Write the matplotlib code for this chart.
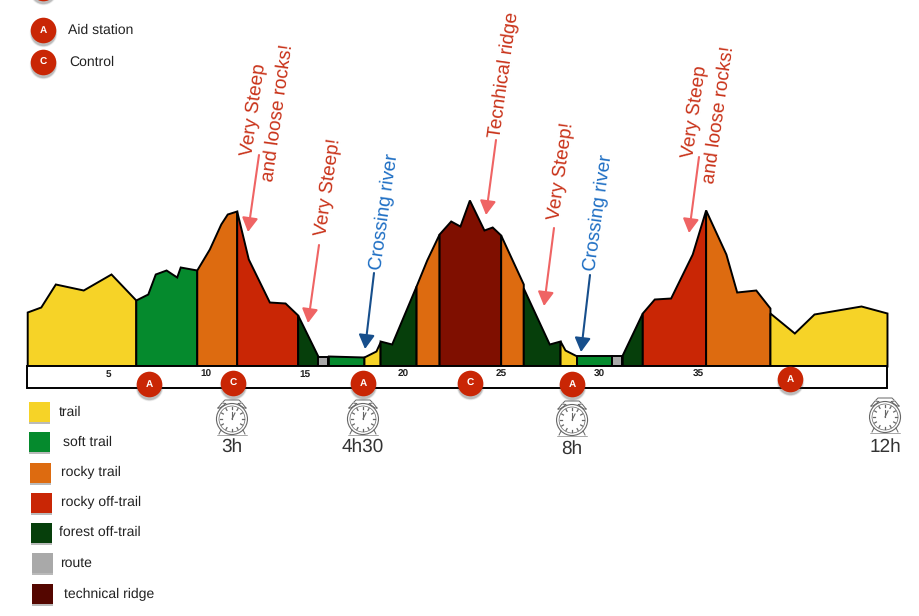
import matplotlib
matplotlib.use('Agg')
import numpy as np
import matplotlib.pyplot as plt
from matplotlib.patches import Ellipse, Rectangle

plt.rcParams['font.family'] = ['Liberation Sans', 'DejaVu Sans']
plt.rcParams['text.hinting'] = 'none'
plt.rcParams['text.hinting_factor'] = 1

# surface colours
YELLOW = '#F6D327'
GREEN = '#058A2D'
ORANGE = '#DD6B10'
RED = '#C92605'
FOREST = '#063F0B'
GREY = '#A9A9A9'
RIDGE = '#7F0F00'

# ------------------------------------------
# course profile, one block per surface
# ------------------------------------------
seg_colors = [YELLOW, GREEN, ORANGE, RED, FOREST, GREY, GREEN, YELLOW, FOREST, ORANGE,
              RIDGE, ORANGE, FOREST, YELLOW, GREEN, GREY, FOREST, RED, ORANGE, YELLOW]
seg_km = [
    [0.89, 1.58, 2.32, 3.74, 5.15, 6.41],
    [6.41, 7.02, 7.40, 7.95, 8.49, 8.67, 9.51],
    [9.51, 10.15, 10.73, 11.06, 11.54],
    [11.54, 12.13, 13.20, 14.00, 14.64],
    [14.64, 15.69],
    [15.69, 16.20],
    [16.20, 18.01],
    [18.01, 18.62, 18.83],
    [18.83, 19.42, 20.66],
    [20.66, 21.20, 21.83],
    [21.83, 22.42, 22.89, 23.37, 24.11, 24.53, 24.96],
    [24.96, 26.11],
    [26.11, 27.43, 27.98],
    [27.98, 28.23, 28.83],
    [28.83, 30.60],
    [30.60, 31.14],
    [31.14, 32.16],
    [32.16, 32.77, 33.60, 34.70, 35.38],
    [35.38, 36.41, 36.96, 37.93, 38.65],
    [38.65, 39.89, 40.89, 43.28, 44.60],
]
seg_elev = [
    [54, 59, 82, 76, 92, 66],
    [66, 72, 92, 96, 89, 99, 96],
    [96, 117, 142, 152, 155],
    [155, 107, 64, 63, 51],
    [51, 9],
    [9, 9],
    [10, 9],
    [9, 15, 24],
    [25, 22, 80],
    [80, 106, 132],
    [132, 145, 140, 166, 136, 139, 131],
    [131, 82],
    [78, 22, 25],
    [25, 16, 10],
    [10, 10],
    [10, 10],
    [11, 53],
    [53, 67, 68, 112, 156],
    [156, 112, 74, 76, 58],
    [53, 33, 52, 60, 53],
]

tick_km = [5, 10, 15, 20, 25, 30, 35]

station_km = [7.08, 11.35, 17.96, 23.40, 28.59, 39.67]
station_letter = ['A', 'C', 'A', 'C', 'A', 'A']
station_py = [384, 383, 383, 383, 384, 379]

clock_km = [11.30, 17.96, 28.59, 44.50]
clock_labels = ['3h', '4h30', '8h', '12h']
clock_py = [419, 419, 420, 417]
clock_label_py = [447, 447, 449, 447]

# callouts: text, text centre (px), arrow start (px), arrow tip (px), colours
note_text = ['Very Steep\nand loose rocks!', 'Very Steep!', 'Crossing river', 'Tecnhical ridge',
             'Very Steep!', 'Crossing river', 'Very Steep\nand loose rocks!']
note_xy = [(266, 111), (328, 187), (384, 212), (504, 75), (561, 171), (598, 213), (707, 113)]
note_from = [(259, 155), (319, 245), (374, 273), (496, 140), (554, 228), (590, 275), (699, 157)]
note_tip = [(248, 232), (308, 323), (365, 349), (486, 215), (544, 306), (581, 352), (689, 233)]
note_color = ['#C9331A', '#C9331A', '#1F6FC4', '#C9331A', '#C9331A', '#1F6FC4', '#C9331A']
arrow_color = ['#EF6464', '#EF6464', '#174F8C', '#EF6464', '#EF6464', '#174F8C', '#EF6464']

legend_labels = ['trail', 'soft trail', 'rocky trail', 'rocky off-trail',
                 'forest off-trail', 'route', 'technical ridge']
legend_colors = [YELLOW, GREEN, ORANGE, RED, FOREST, GREY, '#540600']
legend_box_x = [29, 29, 30, 31, 31, 32, 32]
legend_box_y = [402, 432, 463, 493, 523, 553, 584]
legend_text_x = [59, 63, 61, 61, 59, 60, 63.5]
legend_text_y = [412, 442, 472, 502, 532, 563, 594]

# ------------------------------------------
# figure: axes fills the canvas, x in km
# ------------------------------------------
PX_PER_KM = 19.67
KM0_PX = 9.7
BASE_PY = 366


def px(x, y):
    # canvas pixel -> data position
    return (x - KM0_PX) / PX_PER_KM, BASE_PY - y


fig = plt.figure(figsize=(9.2, 6.16), dpi=100)
ax = fig.add_axes([0, 0, 1, 1])
ax.set_xlim(px(0, 0)[0], px(920, 0)[0])
ax.set_ylim(BASE_PY - 616, BASE_PY)
ax.axis('off')

for km, elev, color in zip(seg_km, seg_elev, seg_colors):
    ax.fill_between(km, 0, elev, facecolor=color, edgecolor='black', linewidth=1.4,
                    joinstyle='miter', zorder=2)

# distance band
band_left, band_right = seg_km[0][0], seg_km[-1][-1]
ax.add_patch(Rectangle((band_left, -22), band_right - band_left, 22, facecolor='white',
                       edgecolor='black', linewidth=1.4, zorder=3))
for km in tick_km:
    ax.text(km, px(0, 374.5)[1], str(km), ha='center', va='center', fontsize=7,
            fontweight='bold', color='#222222', zorder=4)


def badge(x, y, letter=None):
    # red disc with soft shadow
    for grow, alpha in [(400, 0.06), (360, 0.12), (330, 0.18)]:
        ax.scatter(x, y - 2.5, s=grow, color='#333333', alpha=alpha, linewidths=0, zorder=5)
    ax.scatter(x, y, s=340, color='#C92605', linewidths=0, zorder=6)
    if letter:
        ax.text(x, y, letter, color='white', ha='center', va='center', fontsize=7.5,
                fontweight='bold', zorder=7)


for km, letter, py in zip(station_km, station_letter, station_py):
    badge(km, px(0, py)[1], letter)


def clock(km, py):
    # little alarm clock, sizes in pixels
    ink = '#666666'
    y0 = px(0, py)[1]

    def line(xs, ys, lw=0.6):
        ax.plot(km + np.array(xs) / PX_PER_KM, y0 - np.array(ys), color=ink, lw=lw, zorder=4)

    for r, lw in [(15.5, 0.8), (13, 0.5)]:
        ax.add_patch(Ellipse((km, y0), 2 * r / PX_PER_KM, 2 * r, facecolor='white',
                             edgecolor=ink, linewidth=lw, zorder=4))
    for a in np.arange(12) * np.pi / 6:
        line([10 * np.sin(a), 12 * np.sin(a)], [-10 * np.cos(a), -12 * np.cos(a)], 0.9)
    line([0, 0], [0, -7.5], 0.8)
    line([0, 3], [0, -6], 0.8)
    # bells, top bar and feet
    line([-14, -10, -6, -12, -14], [-11, -16, -15.5, -11, -11], 0.7)
    line([14, 10, 6, 12, 14], [-11, -16, -15.5, -11, -11], 0.7)
    line([-9, -7, 7, 9], [-17, -19, -19, -17], 0.7)
    line([-11, -13], [11, 15], 0.7)
    line([11, 13], [11, 15], 0.7)
    line([-15, 15], [15.5, 15.5], 0.4)


for km, py, lab, lab_py in zip(clock_km, clock_py, clock_labels, clock_label_py):
    clock(km, py)
    ax.text(km, px(0, lab_py)[1], lab, ha='center', va='center', fontsize=14, color='#333333')

# callouts
for text, xy, start, tip, tc, ac in zip(note_text, note_xy, note_from, note_tip, note_color, arrow_color):
    tx, ty = px(*xy)
    ax.text(tx, ty, text, rotation=82, ha='center', va='center', multialignment='center',
            fontsize=13.7, color=tc, linespacing=1.45, zorder=8)
    ax.annotate('', xy=px(*tip), xytext=px(*start), zorder=8,
                arrowprops=dict(arrowstyle='-|>,head_length=0.85,head_width=0.48', mutation_scale=10,
                                color=ac, lw=1.5, shrinkA=0, shrinkB=0))

# key, top left
badge(*px(43, -12))
for y, letter, label, tx in [(30, 'A', 'Aid station', 68), (62, 'C', 'Control', 69)]:
    badge(*px(43, y), letter)
    ax.text(*px(tx, y), label, ha='left', va='center', fontsize=10, color='#222222')

# key, bottom left
for x, y, color, label, tx, ty in zip(legend_box_x, legend_box_y, legend_colors, legend_labels,
                                      legend_text_x, legend_text_y):
    w, h = 21 / PX_PER_KM, 19.5
    x0, y0 = px(x, y + 19.5)
    ax.add_patch(Rectangle((x0, y0 - 2), w, h, facecolor='#666666', alpha=0.45, linewidth=0, zorder=2))
    ax.add_patch(Rectangle((x0, y0), w, h, facecolor=color, linewidth=0, zorder=3))
    ax.text(*px(tx, ty), label, ha='left', va='center', fontsize=10, color='#222222')

fig.savefig('out.png', dpi=100)
